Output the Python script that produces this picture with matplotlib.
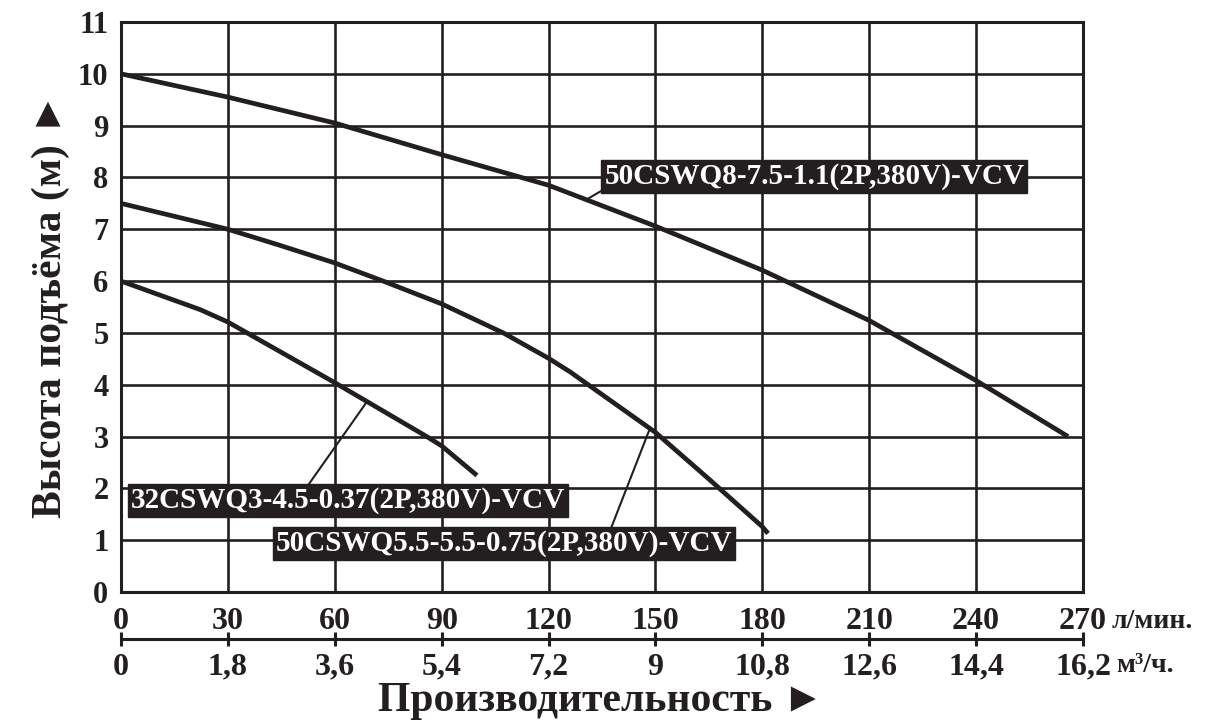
import numpy as np
import matplotlib.pyplot as plt

# flow in l/min and head in m
q_big = [0, 30, 60, 90, 120, 150, 180, 210, 240, 265.8]
h_big = [10, 9.55, 9.05, 8.44, 7.85, 7.06, 6.21, 5.24, 4.08, 3.0]

q_mid = [0, 30, 44.6, 60, 73.6, 90, 107.3, 120, 126, 150, 165, 180, 181.6]
h_mid = [7.5, 7.0, 6.69, 6.35, 6.0, 5.56, 5.0, 4.51, 4.25, 3.08, 2.18, 1.26, 1.13]

q_small = [0, 22.2, 30, 60, 85.8, 90, 99.9]
h_small = [6, 5.45, 5.21, 4.04, 3.0, 2.82, 2.25]

names = ["50CSWQ8-7.5-1.1(2P,380V)-VCV",
         "50CSWQ5.5-5.5-0.75(2P,380V)-VCV",
         "32CSWQ3-4.5-0.37(2P,380V)-VCV"]

x_lmin = [0, 30, 60, 90, 120, 150, 180, 210, 240, 270]
x_m3h = ["0", "1,8", "3,6", "5,4", "7,2", "9", "10,8", "12,6", "14,4", "16,2"]
y_ticks = list(range(0, 12))

ink = '#231f20'
serif = ['Liberation Serif', 'DejaVu Serif', 'DejaVu Sans']

fig = plt.figure(figsize=(12.08, 7.26), dpi=100)
W, H = 1208, 726
left, right, top, bottom = 121, 1083, 22, 592
ax = fig.add_axes([left / W, 1 - bottom / H, (right - left) / W, (bottom - top) / H])

ax.set_xlim(0, 270)
ax.set_ylim(0, 11)
ax.set_xticks(x_lmin)
ax.set_yticks(y_ticks)
ax.set_xticklabels([str(v) for v in x_lmin], fontsize=23, fontweight='bold', family=serif, color=ink)
ax.set_yticklabels([str(v) for v in y_ticks], fontsize=22, fontweight='bold', family=serif, color=ink)
ax.tick_params(axis='both', length=0)
ax.tick_params(axis='x', pad=11)
ax.tick_params(axis='y', pad=9)
ax.grid(True, color=ink, linewidth=1.9)
for s in ax.spines.values():
    s.set_linewidth(2.2)
    s.set_color(ink)

ax.plot(q_big, h_big, color=ink, linewidth=3.4, solid_capstyle='butt', solid_joinstyle='round', zorder=3)
ax.plot(q_mid, h_mid, color=ink, linewidth=3.4, solid_capstyle='butt', solid_joinstyle='round', zorder=3)
ax.plot(q_small, h_small, color=ink, linewidth=3.4, solid_capstyle='butt', solid_joinstyle='round', zorder=3)

# leader lines
ax.plot([130.8, 135.3], [7.58, 7.76], color=ink, linewidth=1.5, zorder=3)
ax.plot([148.3, 137.7], [3.13, 1.26], color=ink, linewidth=1.5, zorder=3)
ax.plot([69.0, 52.5], [3.67, 2.06], color=ink, linewidth=1.5, zorder=3)

box = dict(boxstyle='square,pad=0.1', facecolor=ink, edgecolor=ink)
ax.text(194.6, 8.02, names[0], color='white', fontsize=21, fontweight='bold',
        family=serif, ha='center', va='center', bbox=box, zorder=5)
ax.text(107.5, 0.94, names[1], color='white', fontsize=21, fontweight='bold',
        family=serif, ha='center', va='center', bbox=box, zorder=5)
ax.text(63.7, 1.76, names[2], color='white', fontsize=21, fontweight='bold',
        family=serif, ha='center', va='center', bbox=box, zorder=5)

# second flow scale in m3/h
ax2 = fig.add_axes([left / W, 1 - 639 / H, (right - left) / W, 0.0001])
ax2.set_xlim(0, 270)
ax2.set_ylim(0, 1)
for k in ['top', 'left', 'right']:
    ax2.spines[k].set_visible(False)
ax2.spines['bottom'].set_linewidth(2.2)
ax2.spines['bottom'].set_color(ink)
ax2.set_yticks([])
ax2.set_xticks(x_lmin)
ax2.set_xticklabels(x_m3h, fontsize=23, fontweight='bold', family=serif, color=ink)
ax2.tick_params(axis='x', direction='inout', length=10, width=2.2, color=ink, pad=5)
ax2.patch.set_visible(False)

fig.text(1112 / W, 1 - 621 / H, "л/мин.", fontsize=20, fontweight='bold', family=serif,
         color=ink, ha='left', va='center')
fig.text(1116 / W, 1 - 666 / H, "м³/ч.", fontsize=20, fontweight='bold', family=serif,
         color=ink, ha='left', va='center')

fig.text(601 / W, 1 - 701 / H, "Производительность ►", fontsize=30, fontweight='bold',
         family=serif, color=ink, ha='center', va='center')
fig.text(51 / W, 1 - 305 / H, "Высота подъёма (м) ►", fontsize=30, fontweight='bold',
         family=serif, color=ink, ha='center', va='center', rotation=90)

fig.savefig('out.png', dpi=100, facecolor='white')
